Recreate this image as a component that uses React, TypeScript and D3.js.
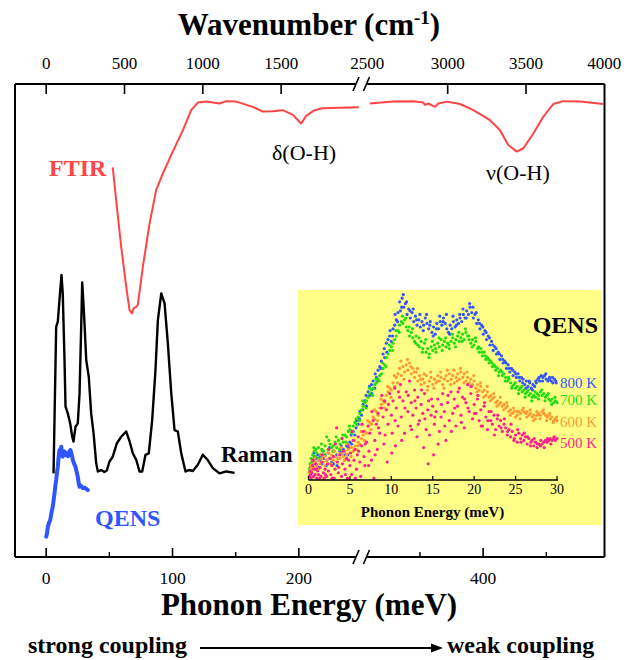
import React from 'react';
import * as d3 from 'd3';

const W = 635;
const H = 660;
const CM_PER_MEV = 8.0655;

// ---- Top axis (wavenumber, cm-1)
const topTickValues = [0, 500, 1000, 1500, 3000, 3500];
const topLabelValues = [0, 500, 1000, 1500, 2500, 3000, 3500, 4000];
// ---- Bottom axis (phonon energy, meV)
const bottomMajorTicks = [0, 100, 200, 400];
const bottomMinorTicks = [50, 150, 350, 450];

// ---- FTIR spectrum (wavenumber cm-1, arbitrary signal)
const ftirWavenumber = [425, 451, 479, 511, 532, 547, 559, 575, 585, 617, 660, 702, 745, 808, 873, 926, 968, 1022, 1107, 1150, 1213, 1319, 1383, 1447, 1511, 1575, 1628, 1660, 1713, 1766, 1873, 1996,
  2503, 2653, 2780, 2844, 2855, 2876, 2919, 2940, 2994, 3079, 3164, 3270, 3334, 3387, 3441, 3483, 3547, 3610, 3674, 3738, 3845, 3994];
const ftirSignal = [82.5, 74.2, 65.8, 57.4, 52.5, 51.8, 52.9, 53.2, 53.6, 61.6, 70.7, 77.7, 81.2, 85.8, 90.3, 94.5, 96.1, 96.3, 95.9, 96.4, 96.3, 95.2, 94.2, 94.3, 94.5, 93.5, 91.7, 93.3, 94.5, 94.9, 95.0, 95.1,
  95.9, 96.3, 96.4, 96.1, 95.6, 95.9, 95.2, 95.9, 96.3, 95.8, 94.5, 92.4, 90.3, 87.2, 85.8, 86.5, 89.6, 93.1, 95.8, 96.4, 96.3, 95.8];

// ---- Raman spectrum (meV, intensity)
const ramanEnergy = [5.8, 7.9, 9.2, 10.5, 12.1, 13.1, 14.5, 15.3, 17.1, 19.0, 20.6, 21.6, 23.2, 25.0, 26.4, 27.7, 28.5, 29.8, 31.7, 33.7, 35.6, 37.5, 39.6, 40.9, 43.5, 46.0, 48.0, 50.1, 52.7, 55.9, 59.4, 63.3, 66.0, 68.6, 71.3, 73.9, 76.0, 78.6, 81.2, 83.9, 86.5, 88.4, 91.1, 93.7, 96.3, 99.0, 101.6, 104.2, 106.9, 110.3, 113.0, 116.1, 120.0, 124.0, 127.9, 131.9, 137.2, 142.5, 149.1];
const ramanIntensity = [18.2, 49.0, 50.1, 54.6, 59.9, 56.0, 42.0, 32.2, 30.8, 28.7, 25.9, 24.9, 28.0, 28.7, 35.0, 49.0, 58.3, 52.5, 42.0, 38.5, 30.8, 26.6, 20.3, 18.6, 18.9, 18.5, 18.8, 20.7, 21.7, 24.5, 25.9, 27.0, 24.9, 22.4, 21.0, 18.6, 18.6, 22.1, 22.4, 29.4, 39.9, 50.4, 56.0, 53.9, 45.5, 35.0, 27.3, 27.0, 22.4, 18.6, 18.9, 18.7, 20.0, 22.1, 21.0, 19.3, 18.2, 18.6, 18.3];

// ---- QENS in main panel (meV, intensity)
const qensEnergy = [0, 0.6, 1.3, 2.2, 3.2, 4.2, 5.2, 6.0, 6.6, 7.2, 7.9, 8.6, 9.2, 9.8, 10.5, 11.2, 11.9, 12.5, 13.1, 13.8, 14.5, 15.4, 16.3, 17.3, 18.4, 19.1, 19.8, 20.5, 21.1, 22.1, 23.2, 24.1, 25.0, 25.7, 26.4, 27.5, 29.0, 30.5, 32.9];
const qensIntensity = [4.9, 5.5, 7.0, 7.8, 8.4, 10.0, 11.2, 12.8, 14.0, 15.5, 16.8, 18.5, 19.6, 21.5, 23.1, 22.0, 23.8, 22.5, 21.7, 22.6, 22.8, 22.0, 22.4, 21.8, 22.8, 23.1, 22.6, 21.8, 21.0, 20.2, 19.6, 18.5, 17.5, 16.2, 15.4, 15.6, 15.1, 15.2, 14.7];

// ---- Inset QENS scatter, [meV, intensity]
const qens800 = [[0.1,4],[0.2,7],[0.3,9],[0.4,6],[0.5,11],[0.6,9],[0.7,13],[0.8,10],[0.9,12],[1.0,8],[1.1,14],[1.3,11],[1.4,13],[1.6,9],[1.8,12],[2.0,14],[2.2,11],[2.4,15],[2.6,12],[2.8,10],[3.0,9],[3.2,13],[3.4,14],[3.6,12],[3.8,16],[4.0,15],[4.2,17],[4.4,14],[4.6,19],[4.8,18],[5.0,21],[5.2,20],[5.4,27],[5.6,25],[5.8,33],[6.0,31],[6.2,38],[6.4,36],[6.6,42],[6.8,44],[7.0,41],[7.2,49],[7.4,47],[7.6,53],[7.8,55],[8.0,51],[8.2,57],[8.4,61],[8.6,63],[8.8,66],[9.0,70],[9.2,68],[9.4,76],[9.6,78],[9.8,80],[10.0,77],[10.2,84],[10.4,86],[10.6,89],[10.8,93],[11.0,99],[11.1,94],[11.3,101],[11.5,96],[11.7,98],[11.9,92],[12.1,95],[12.3,90],[12.5,93],[12.7,88],[12.9,91],[13.1,86],[13.3,89],[13.5,85],[13.7,88],[13.9,86],[14.1,90],[14.3,87],[14.5,84],[14.7,88],[14.9,82],[15.1,85],[15.3,81],[15.5,87],[15.7,84],[15.9,88],[16.1,86],[16.3,90],[16.5,87],[16.7,84],[16.9,82],[17.1,86],[17.3,84],[17.5,88],[17.7,85],[17.9,89],[18.1,87],[18.3,90],[18.5,88],[18.7,92],[18.9,90],[19.1,94],[19.3,92],[19.5,96],[19.7,93],[19.9,90],[20.1,92],[20.3,87],[20.5,89],[20.7,84],[20.9,86],[21.1,81],[21.3,83],[21.5,78],[21.7,80],[21.9,75],[22.1,77],[22.3,72],[22.5,74],[22.7,70],[22.9,71],[23.1,67],[23.3,69],[23.5,65],[23.7,66],[23.9,62],[24.1,64],[24.3,60],[24.5,62],[24.7,58],[24.9,60],[25.1,57],[25.3,59],[25.5,55],[25.7,57],[25.9,56],[26.1,53],[26.3,55],[26.5,52],[26.7,54],[26.9,51],[27.1,53],[27.3,52],[27.5,54],[27.7,56],[27.9,55],[28.1,58],[28.3,57],[28.5,58],[28.7,56],[28.9,55],[29.1,57],[29.3,55],[29.5,54],[29.7,56],[29.9,54],
  [0.35,5],[0.65,15],[1.25,7],[1.75,16],[2.15,8],[2.55,18],[3.05,16],[3.45,8],[3.95,19],[4.35,11],[4.75,14],[5.15,25],[5.45,22],[5.75,29],[6.15,34],[6.55,39],[6.95,47],[7.35,52],[7.65,48],[8.05,59],[8.35,55],[8.75,62],[9.15,73],[9.45,71],[9.85,83],[10.15,80],[10.45,92],[10.75,88],[11.25,96],[11.45,103],[11.85,99],[12.25,94],[12.65,95],[13.05,89],[13.45,92],[13.85,83],[14.25,92],[14.65,86],[15.05,80],[15.45,84],[15.85,91],[16.25,88],[16.65,92],[17.05,81],[17.45,91],[17.85,86],[18.25,92],[18.65,95],[19.05,90],[19.45,98],[19.85,96],[20.25,93],[20.65,87],[21.05,85],[21.45,82],[21.85,79],[22.25,75],[22.65,73],[23.05,70],[23.45,67],[23.85,65],[24.25,62],[24.65,61],[25.05,59],[25.45,57],[25.85,54],[26.25,51],[26.65,55],[27.05,50],[27.45,55],[27.85,57],[28.25,55],[28.65,59],[29.05,56],[29.45,57],[29.85,55]];
const qens700 = [[0.1,6],[0.2,9],[0.3,12],[0.4,10],[0.5,14],[0.6,11],[0.7,16],[0.8,13],[0.9,17],[1.0,15],[1.2,18],[1.4,14],[1.6,17],[1.8,16],[2.0,19],[2.2,24],[2.4,17],[2.6,20],[2.8,18],[3.0,19],[3.2,21],[3.4,18],[3.6,22],[3.8,20],[4.0,23],[4.2,21],[4.4,25],[4.6,24],[4.8,27],[5.0,28],[5.2,26],[5.4,30],[5.6,32],[5.8,31],[6.0,35],[6.2,37],[6.4,39],[6.6,41],[6.8,43],[7.0,44],[7.2,46],[7.4,48],[7.6,50],[7.8,51],[8.0,53],[8.2,54],[8.4,56],[8.6,58],[8.8,59],[9.0,62],[9.2,64],[9.4,68],[9.6,70],[9.8,72],[10.0,74],[10.2,76],[10.4,78],[10.6,80],[10.8,83],[11.0,86],[11.2,88],[11.4,87],[11.6,89],[11.8,85],[12.0,83],[12.2,80],[12.4,82],[12.6,79],[12.8,77],[13.0,80],[13.2,75],[13.4,74],[13.6,77],[13.8,73],[14.0,76],[14.2,71],[14.4,73],[14.6,70],[14.8,74],[15.0,72],[15.2,75],[15.4,71],[15.6,76],[15.8,74],[16.0,78],[16.2,75],[16.4,77],[16.6,74],[16.8,76],[17.0,73],[17.2,77],[17.4,79],[17.6,76],[17.8,78],[18.0,80],[18.2,77],[18.4,79],[18.6,81],[18.8,78],[19.0,82],[19.2,80],[19.4,78],[19.6,76],[19.8,78],[20.0,75],[20.2,77],[20.4,73],[20.6,71],[20.8,73],[21.0,69],[21.2,71],[21.4,67],[21.6,68],[21.8,65],[22.0,66],[22.2,63],[22.4,64],[22.6,61],[22.8,62],[23.0,60],[23.2,61],[23.4,58],[23.6,59],[23.8,57],[24.0,55],[24.2,56],[24.4,54],[24.6,52],[24.8,53],[25.0,51],[25.2,52],[25.4,50],[25.6,51],[25.8,49],[26.0,50],[26.2,48],[26.4,49],[26.6,47],[26.8,48],[27.0,46],[27.2,47],[27.4,46],[27.6,48],[27.8,47],[28.0,49],[28.2,47],[28.4,48],[28.6,46],[28.8,47],[29.0,45],[29.2,44],[29.4,45],[29.6,43],[29.8,44],[30.0,43],
  [0.35,8],[0.65,18],[1.15,12],[1.55,20],[1.95,14],[2.45,22],[2.95,16],[3.35,24],[3.75,17],[4.15,25],[4.55,21],[4.95,30],[5.35,27],[5.75,34],[6.15,33],[6.55,44],[6.95,40],[7.35,51],[7.75,47],[8.15,56],[8.55,55],[8.95,65],[9.35,63],[9.75,75],[10.15,72],[10.55,83],[10.95,82],[11.35,91],[11.75,90],[12.15,85],[12.55,84],[12.95,76],[13.35,79],[13.75,71],[14.15,78],[14.55,68],[14.95,77],[15.35,73],[15.75,79],[16.15,72],[16.55,79],[16.95,75],[17.35,81],[17.75,74],[18.15,82],[18.55,77],[18.95,84],[19.35,80],[19.75,74],[20.15,79],[20.55,74],[20.95,71],[21.35,69],[21.75,67],[22.15,65],[22.55,63],[22.95,58],[23.35,60],[23.75,55],[24.15,57],[24.55,51],[24.95,54],[25.35,48],[25.75,52],[26.15,46],[26.55,50],[26.95,44],[27.35,49],[27.75,45],[28.15,50],[28.55,44],[28.95,48],[29.35,42],[29.75,46]];
const qens600 = [[0.1,4],[0.2,6],[0.3,8],[0.4,5],[0.5,9],[0.6,7],[0.8,10],[1.0,8],[1.2,11],[1.4,9],[1.6,12],[1.8,10],[2.0,13],[2.2,11],[2.4,9],[2.6,12],[2.8,14],[3.0,11],[3.2,13],[3.4,10],[3.6,14],[3.8,12],[4.0,15],[4.2,13],[4.4,16],[4.6,14],[4.8,17],[5.0,15],[5.2,18],[5.4,16],[5.6,19],[5.8,17],[6.0,21],[6.2,20],[6.4,23],[6.6,25],[6.8,27],[7.0,26],[7.2,30],[7.4,32],[7.6,31],[7.8,35],[8.0,34],[8.2,38],[8.4,36],[8.6,40],[8.8,42],[9.0,44],[9.2,43],[9.4,47],[9.6,49],[9.8,51],[10.0,50],[10.2,54],[10.4,52],[10.6,57],[10.8,59],[11.0,62],[11.2,58],[11.4,63],[11.6,60],[11.8,64],[12.0,61],[12.2,65],[12.4,59],[12.6,62],[12.8,57],[13.0,60],[13.2,55],[13.4,58],[13.6,53],[13.8,56],[14.0,54],[14.2,58],[14.4,52],[14.6,55],[14.8,57],[15.0,53],[15.2,56],[15.4,54],[15.6,58],[15.8,55],[16.0,57],[16.2,53],[16.4,56],[16.6,58],[16.8,55],[17.0,59],[17.2,56],[17.4,58],[17.6,54],[17.8,57],[18.0,59],[18.2,56],[18.4,60],[18.6,57],[18.8,59],[19.0,55],[19.2,57],[19.4,54],[19.6,56],[19.8,53],[20.0,55],[20.2,51],[20.4,53],[20.6,50],[20.8,52],[21.0,49],[21.2,50],[21.4,47],[21.6,49],[21.8,46],[22.0,47],[22.2,45],[22.4,46],[22.6,43],[22.8,44],[23.0,42],[23.2,43],[23.4,41],[23.6,42],[23.8,40],[24.0,41],[24.2,38],[24.4,39],[24.6,37],[24.8,38],[25.0,35],[25.2,36],[25.4,38],[25.6,37],[25.8,39],[26.0,38],[26.2,37],[26.4,38],[26.6,36],[26.8,37],[27.0,35],[27.2,36],[27.4,34],[27.6,36],[27.8,37],[28.0,36],[28.2,38],[28.4,37],[28.6,36],[28.8,35],[29.0,36],[29.2,34],[29.4,35],[29.6,33],[29.8,34],[30.0,33],
  [0.35,7],[0.75,12],[1.15,6],[1.55,14],[1.95,8],[2.35,15],[2.75,9],[3.15,16],[3.55,12],[3.95,18],[4.35,11],[4.75,20],[5.15,13],[5.55,22],[5.95,19],[6.35,27],[6.75,22],[7.15,33],[7.55,28],[7.95,39],[8.35,33],[8.75,45],[9.15,40],[9.55,52],[9.95,46],[10.35,58],[10.75,54],[11.15,66],[11.55,56],[11.95,67],[12.35,63],[12.75,60],[13.15,62],[13.55,56],[13.95,59],[14.35,50],[14.75,60],[15.15,51],[15.55,55],[15.95,60],[16.35,51],[16.75,61],[17.15,53],[17.55,61],[17.95,55],[18.35,62],[18.75,54],[19.15,60],[19.55,52],[19.95,58],[20.35,49],[20.75,54],[21.15,46],[21.55,52],[21.95,44],[22.35,48],[22.75,41],[23.15,46],[23.55,39],[23.95,43],[24.35,36],[24.75,40],[25.15,38],[25.55,34],[25.95,40],[26.35,35],[26.75,39],[27.15,33],[27.55,38],[27.95,34],[28.35,39],[28.75,33],[29.15,37],[29.55,32],[29.95,35]];
const qens500 = [[0.1,2],[0.2,5],[0.3,1],[0.4,4],[0.5,8],[0.6,2],[0.7,6],[0.8,3],[0.9,9],[1.0,1],[1.1,5],[1.2,3],[1.4,7],[1.5,2],[1.6,10],[1.8,4],[1.9,1],[2.0,6],[2.2,2],[2.3,9],[2.4,5],[2.6,12],[2.7,3],[2.8,8],[3.0,13],[3.1,1],[3.2,6],[3.4,29],[3.5,10],[3.6,4],[3.8,14],[4.0,2],[4.1,9],[4.2,16],[4.4,6],[4.6,12],[4.7,1],[4.8,19],[5.0,8],[5.1,15],[5.2,3],[5.4,22],[5.5,11],[5.6,17],[5.8,6],[5.9,14],[6.0,24],[6.2,10],[6.3,2],[6.4,19],[6.6,27],[6.7,13],[6.8,8],[7.0,21],[7.2,30],[7.3,16],[7.4,26],[7.6,11],[7.8,33],[7.9,1],[8.0,22],[8.2,31],[8.3,17],[8.4,37],[8.6,26],[8.8,40],[9.0,35],[9.1,20],[9.2,44],[9.4,39],[9.5,10],[9.6,31],[9.8,48],[10.0,36],[10.1,26],[10.2,44],[10.4,51],[10.5,19],[10.6,40],[10.8,30],[11.0,46],[11.1,53],[11.2,35],[11.4,44],[11.6,26],[11.8,49],[12.0,38],[12.2,55],[12.3,30],[12.4,43],[12.6,36],[12.8,50],[13.0,40],[13.1,24],[13.2,46],[13.4,33],[13.6,42],[13.8,37],[13.9,18],[14.0,48],[14.2,28],[14.4,39],[14.5,44],[14.6,25],[14.8,36],[15.0,41],[15.1,14],[15.2,31],[15.4,38],[15.6,45],[15.8,27],[16.0,35],[16.2,48],[16.4,38],[16.6,22],[16.8,43],[17.0,33],[17.2,49],[17.4,37],[17.6,45],[17.8,30],[18.0,41],[18.2,51],[18.4,36],[18.6,46],[18.8,29],[19.0,43],[19.2,53],[19.4,38],[19.6,48],[19.8,34],[20.0,42],[20.2,37],[20.4,45],[20.6,33],[20.8,39],[21.0,30],[21.2,41],[21.4,35],[21.6,28],[21.8,38],[22.0,33],[22.2,31],[22.4,36],[22.6,28],[22.8,34],[23.0,30],[23.2,33],[23.4,27],[23.6,31],[23.8,29],[24.0,25],[24.2,28],[24.4,24],[24.6,27],[24.8,22],[25.0,25],[25.2,21],[25.4,26],[25.6,23],[25.8,25],[26.0,22],[26.2,24],[26.4,20],[26.6,23],[26.8,19],[27.0,22],[27.2,19],[27.4,21],[27.6,18],[27.8,20],[28.0,19],[28.2,20],[28.4,21],[28.6,22],[28.8,21],[29.0,22],[29.2,23],[29.4,22],[29.6,23],[29.8,22],[30.0,23],
  [0.25,3],[0.55,11],[0.95,6],[1.35,1],[1.65,14],[2.05,3],[2.45,17],[2.85,1],[3.25,20],[3.65,7],[4.05,23],[4.45,3],[4.85,11],[5.25,27],[5.65,1],[6.05,16],[6.45,31],[6.85,20],[7.25,8],[7.65,38],[8.05,14],[8.45,29],[8.85,47],[9.25,25],[9.65,42],[10.05,15],[10.45,33],[10.85,49],[11.25,22],[11.65,40],[12.05,47],[12.45,28],[12.85,44],[13.25,31],[13.65,50],[14.05,34],[14.45,9],[14.85,45],[15.25,35],[15.65,20],[16.05,42],[16.45,30],[16.85,47],[17.25,27],[17.65,40],[18.05,49],[18.45,32],[18.85,45],[19.25,40],[19.65,52],[20.05,37],[20.45,47],[20.85,30],[21.25,43],[21.65,33],[22.05,38],[22.45,25],[22.85,36],[23.25,29],[23.65,34],[24.05,27],[24.45,31],[24.85,23],[25.25,28],[25.65,21],[26.05,26],[26.45,24],[26.85,21],[27.25,23],[27.65,20],[28.05,22],[28.45,18],[28.85,23],[29.25,20],[29.65,24]];

const insetTicks = [0, 5, 10, 15, 20, 25, 30];
const insetLabelY = [388, 405, 427, 448];
const insetSeries = [
  { label: '800 K', data: qens800, color: '#3355ff' },
  { label: '700 K', data: qens700, color: '#22dd11' },
  { label: '600 K', data: qens600, color: '#ff9933' },
  { label: '500 K', data: qens500, color: '#ff1f8e' },
];

const SERIF = 'Liberation Serif';

// frame geometry
const L = 15, R = 604.5, T = 84, B = 557;
const BREAK1 = 356, BREAK2 = 366.5;

const xLeft = d3.scaleLinear().domain([-24.7, 249.6]).range([L, 361.5]);
const xRight = d3.scaleLinear().domain([307.3, 495.9]).range([366, 604.3]);
const xE = (e: number) => (e <= 270 ? xLeft(e) : xRight(e));
const xK = (k: number) => xE(k / CM_PER_MEV);
const yMain = d3.scaleLinear().domain([0, 100]).range([560, 84]);

const xIn = d3.scaleLinear().domain([0, 30]).range([308.5, 557]);
const yIn = d3.scaleLinear().domain([0, 100]).range([480, 300]);

const tStyle = { fontFamily: SERIF };

export default function App() {
  const ftirPts = ftirWavenumber.map((k, i) => [k, ftirSignal[i]] as [number, number]);
  const ftirLine = d3.line<[number, number]>().x((d) => xK(d[0])).y((d) => yMain(d[1]));
  const ftirA = ftirLine(ftirPts.filter((d) => d[0] < 2250)) || '';
  const ftirB = ftirLine(ftirPts.filter((d) => d[0] > 2250)) || '';

  const ramanPath = d3.line<number>().x((e) => xE(e)).y((_, i) => yMain(ramanIntensity[i]))(ramanEnergy) || '';
  const qensPath = d3.line<number>().x((e) => xE(e)).y((_, i) => yMain(qensIntensity[i]))(qensEnergy) || '';

  const slash = (cx: number, cy: number, key: string) => (
    <line key={key} x1={cx - 3} y1={cy + 7} x2={cx + 3} y2={cy - 7} stroke="#000" strokeWidth={1.6} />
  );

  return (
    <svg width={W} height={H} style={{ display: 'block', position: 'absolute', left: 0, top: 0, fontFamily: SERIF }}>
      <rect x={0} y={0} width={W} height={H} fill="#fff" />
      {/* Titles */}
      <text x={309} y={35} textAnchor="middle" fontSize={31} fontWeight="bold" style={tStyle}>
        Wavenumber (cm<tspan dy={-11} fontSize={19}>-1</tspan><tspan dy={11}>)</tspan>
      </text>

      {/* frame */}
      <g stroke="#000" strokeWidth={2} fill="none">
        <line x1={L} y1={T} x2={L} y2={B} />
        <line x1={R} y1={T} x2={R} y2={B} />
        <line x1={L} y1={T} x2={BREAK1} y2={T} />
        <line x1={BREAK2} y1={T} x2={R} y2={T} />
        <line x1={L} y1={B} x2={BREAK1} y2={B} />
        <line x1={BREAK2} y1={B} x2={R} y2={B} />
      </g>
      {slash(BREAK1, T, 'tb1')}
      {slash(BREAK2, T, 'tb2')}
      {slash(BREAK1, B, 'bb1')}
      {slash(BREAK2, B, 'bb2')}

      {/* top ticks */}
      {topTickValues.map((k) => (
        <line key={'tt' + k} x1={xK(k)} x2={xK(k)} y1={T} y2={T + 10} stroke="#000" strokeWidth={1.6} />
      ))}
      {topLabelValues.map((k) => (
        <text key={'tl' + k} x={k === 2500 ? xK(k) - 2 : xK(k)} y={69} textAnchor="middle" fontSize={17} style={tStyle}>
          {k}
        </text>
      ))}

      {/* bottom ticks */}
      {bottomMajorTicks.map((e) => (
        <line key={'bm' + e} x1={xE(e)} x2={xE(e)} y1={B} y2={B - 9} stroke="#000" strokeWidth={1.6} />
      ))}
      {bottomMinorTicks.map((e) => (
        <line key={'bn' + e} x1={xE(e)} x2={xE(e)} y1={B} y2={B - 5} stroke="#000" strokeWidth={1.4} />
      ))}
      {bottomMajorTicks.map((e) => (
        <text key={'bl' + e} x={xE(e)} y={584} textAnchor="middle" fontSize={17.5} style={tStyle}>
          {e}
        </text>
      ))}
      <text x={309} y={615} textAnchor="middle" fontSize={31} fontWeight="bold" style={tStyle}>
        Phonon Energy (meV)
      </text>

      {/* coupling arrow */}
      <text x={28} y={653} fontSize={24} fontWeight="bold" style={tStyle}>strong coupling</text>
      <line x1={200} y1={648} x2={433} y2={648} stroke="#000" strokeWidth={2} />
      <path d="M431,643.5 L443,648 L431,652.5 Z" fill="#000" />
      <text x={447} y={653} fontSize={24} fontWeight="bold" style={tStyle}>weak coupling</text>

      {/* FTIR */}
      <path d={ftirA} fill="none" stroke="#ff4444" strokeWidth={2} strokeLinejoin="round" />
      <path d={ftirB} fill="none" stroke="#ff4444" strokeWidth={2} strokeLinejoin="round" />
      <text x={49} y={176} fontSize={24} fontWeight="bold" fill="#ff4444" style={tStyle}>FTIR</text>
      <text x={272} y={160} fontSize={22} style={tStyle}>δ(O-H)</text>
      <text x={486} y={180} fontSize={22} style={tStyle}>ν(O-H)</text>

      {/* Raman */}
      <path d={ramanPath} fill="none" stroke="#000" strokeWidth={2.4} strokeLinejoin="round" />
      <text x={221} y={462} fontSize={23} fontWeight="bold" style={tStyle}>Raman</text>

      {/* QENS main */}
      <path d={qensPath} fill="none" stroke="#2f55ff" strokeWidth={4} strokeLinejoin="round" strokeLinecap="round" />
      <text x={95} y={526} fontSize={24} fontWeight="bold" fill="#2f55ff" style={tStyle}>QENS</text>

      {/* Inset */}
      <rect x={298} y={290} width={303.5} height={235} fill="#ffff88" />
      {insetSeries.map((s) => (
        <g key={s.label} fill={s.color}>
          {s.data.map((d, i) => (
            <circle key={i} cx={xIn(d[0])} cy={yIn(d[1])} r={1.6} />
          ))}
        </g>
      ))}
      <line x1={xIn(0)} x2={xIn(30) + 1} y1={480} y2={480} stroke="#000" strokeWidth={1.5} />
      {insetTicks.map((t) => (
        <g key={'it' + t}>
          <line x1={xIn(t)} x2={xIn(t)} y1={480} y2={476} stroke="#000" strokeWidth={1.2} />
          <text x={xIn(t)} y={494} textAnchor="middle" fontSize={14} style={tStyle}>{t}</text>
        </g>
      ))}
      <text x={432.5} y={517} textAnchor="middle" fontSize={15} fontWeight="bold" style={tStyle}>Phonon Energy (meV)</text>
      <text x={598} y={333} textAnchor="end" fontSize={24} fontWeight="bold" style={tStyle}>QENS</text>
      {insetSeries.map((s, i) => (
        <text key={'lab' + s.label} x={560} y={insetLabelY[i]} fontSize={15} fill={s.color} style={tStyle}>
          {s.label}
        </text>
      ))}
    </svg>
  );
}
